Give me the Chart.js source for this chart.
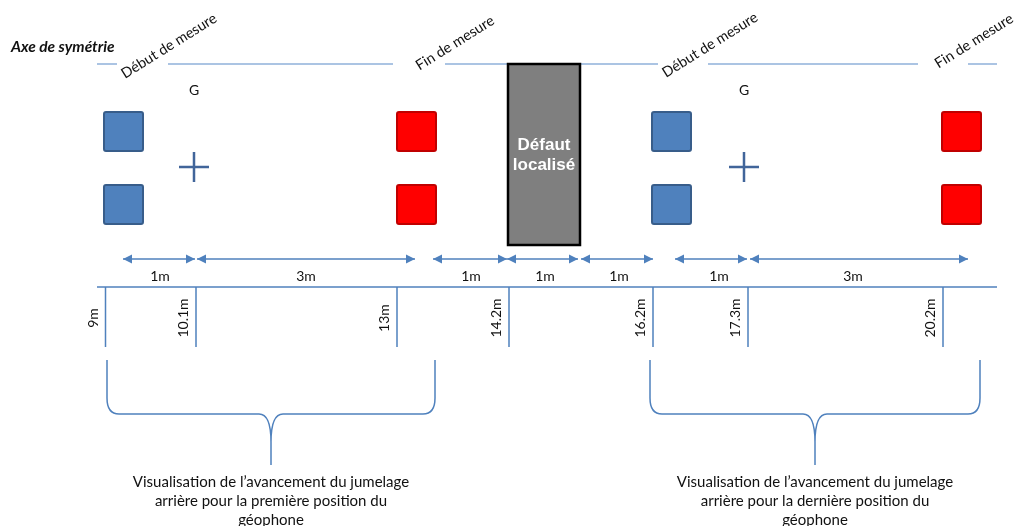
<!DOCTYPE html>
<html lang="fr">
<head>
  <meta charset="UTF-8" />
  <title>Axe de symétrie</title>
  <script src="https://cdn.jsdelivr.net/npm/chart.js"></script>
  <style>
    body { margin: 0; background: #fff; }
    #wrap { width: 1018px; height: 526px; position: relative; }
  </style>
</head>
<body>
  <div id="wrap"><canvas id="schema"></canvas></div>
  <script>
    // diagram units: x 0..1018, y 0..526 (top down)
    const tickLabels = ['9m', '10.1m', '13m', '14.2m', '16.2m', '17.3m', '20.2m'];
    const tickPos = [105.5, 196, 397, 509, 653, 748, 943];
    const spanLabels = ['1m', '3m', '1m', '1m', '1m', '1m', '3m'];
    const spanFrom = [123, 197, 433, 507, 581, 675, 750];
    const spanTo = [195, 415, 507, 578, 653, 747, 968];
    const spanLabelX = [160, 306, 471, 545, 619, 719, 853];
    const axisSegments = [[97, 117], [168, 393], [445, 658], [708, 918], [968, 997]];
    const markLabels = ['Début de mesure', 'Fin de mesure', 'Début de mesure', 'Fin de mesure'];
    const markLabelX = [169, 455, 710, 974];
    const markLabelY = [46, 43, 45, 41];
    const blueX = [104, 652];
    const redX = [397, 942];
    const squareY = [112, 185];
    const gX = [194, 744];
    const defectX = [508, 580];
    const defectY = [64, 245];
    const braceLeft = [107, 650];
    const braceRight = [435, 980];
    const braceTip = [271, 815];
    const captions = [
      ['Visualisation de l\u2019avancement du jumelage', 'arrière pour la première position du', 'géophone'],
      ['Visualisation de l\u2019avancement du jumelage', 'arrière pour la dernière position du', 'géophone']
    ];

    const axisY = 64, baseY = 287, tickBottom = 347, arrowY = 259;
    const lineBlue = '#4f81bd';
    const textCol = '#111';

    function seg(x1, y1, x2, y2, color, w) {
      return {
        type: 'line',
        data: [{x: x1, y: y1}, {x: x2, y: y2}],
        borderColor: color,
        borderWidth: w,
        pointRadius: 0,
        showLine: true,
        tension: 0
      };
    }

    const datasets = [];
    axisSegments.forEach(s => datasets.push(seg(s[0], axisY, s[1], axisY, '#8fb0da', 1.5)));
    datasets.push(seg(97, baseY, 997, baseY, lineBlue, 1.5));
    tickPos.forEach(x => datasets.push(seg(x, baseY, x, tickBottom, lineBlue, 1.5)));
    spanFrom.forEach((x, i) => datasets.push(seg(x, arrowY, spanTo[i], arrowY, lineBlue, 1.5)));

    const drawing = {
      id: 'drawing',
      afterDatasetsDraw(chart) {
        const ctx = chart.ctx;
        const X = v => chart.scales.x.getPixelForValue(v);
        const Y = v => chart.scales.y.getPixelForValue(v);
        ctx.save();

        // arrow heads
        ctx.fillStyle = lineBlue;
        const head = (x, y, dir) => {
          ctx.beginPath();
          ctx.moveTo(X(x), Y(y));
          ctx.lineTo(X(x) - dir * 9, Y(y) - 4.5);
          ctx.lineTo(X(x) - dir * 9, Y(y) + 4.5);
          ctx.closePath();
          ctx.fill();
        };
        spanFrom.forEach((x, i) => { head(x, arrowY, -1); head(spanTo[i], arrowY, 1); });

        // defect box
        ctx.fillStyle = '#7f7f7f';
        ctx.strokeStyle = '#000';
        ctx.lineWidth = 2.5;
        ctx.fillRect(X(defectX[0]), Y(defectY[0]), X(defectX[1]) - X(defectX[0]), Y(defectY[1]) - Y(defectY[0]));
        ctx.strokeRect(X(defectX[0]), Y(defectY[0]), X(defectX[1]) - X(defectX[0]), Y(defectY[1]) - Y(defectY[0]));
        ctx.fillStyle = '#fff';
        ctx.font = 'bold 17px "Liberation Sans", Arial, sans-serif';
        ctx.textAlign = 'center';
        ctx.textBaseline = 'middle';
        const cx = X((defectX[0] + defectX[1]) / 2);
        ctx.fillText('Défaut', cx, Y(145));
        ctx.fillText('localisé', cx, Y(165));

        // squares
        const square = (x, y, fill, stroke) => {
          ctx.fillStyle = fill;
          ctx.strokeStyle = stroke;
          ctx.lineWidth = 2;
          ctx.beginPath();
          ctx.roundRect(X(x), Y(y), X(x + 39) - X(x), Y(y + 39) - Y(y), 2);
          ctx.fill();
          ctx.stroke();
        };
        blueX.forEach(x => squareY.forEach(y => square(x, y, '#4f81bd', '#385d8a')));
        redX.forEach(x => squareY.forEach(y => square(x, y, '#ff0000', '#c00000')));

        // centre marks
        ctx.strokeStyle = '#41659a';
        ctx.lineWidth = 2.5;
        ctx.fillStyle = textCol;
        ctx.font = '14px Lato, sans-serif';
        gX.forEach(x => {
          ctx.beginPath();
          ctx.moveTo(X(x - 15), Y(167)); ctx.lineTo(X(x + 15), Y(167));
          ctx.moveTo(X(x), Y(152)); ctx.lineTo(X(x), Y(182));
          ctx.stroke();
          ctx.fillText('G', X(x), Y(90));
        });

        // title
        ctx.font = 'italic bold 15.5px Lato, sans-serif';
        ctx.textAlign = 'left';
        ctx.fillText('Axe de symétrie', X(11), Y(47));

        // rotated start / end labels
        ctx.font = '14.5px Lato, sans-serif';
        ctx.textAlign = 'center';
        markLabels.forEach((t, i) => {
          ctx.save();
          ctx.translate(X(markLabelX[i]), Y(markLabelY[i]));
          ctx.rotate(-32 * Math.PI / 180);
          ctx.fillText(t, 0, 0);
          ctx.restore();
        });

        // span labels
        ctx.font = '14px Lato, sans-serif';
        spanLabels.forEach((t, i) => ctx.fillText(t, X(spanLabelX[i]), Y(276)));

        // tick labels, vertical
        ctx.textBaseline = 'alphabetic';
        tickLabels.forEach((t, i) => {
          ctx.save();
          ctx.translate(X(tickPos[i] - 8), Y(318));
          ctx.rotate(-Math.PI / 2);
          ctx.fillText(t, 0, 0);
          ctx.restore();
        });

        // braces
        ctx.strokeStyle = lineBlue;
        ctx.lineWidth = 1.5;
        const top = 360, mid = 414, bottom = 465;
        braceLeft.forEach((l, i) => {
          const r = braceRight[i], t = braceTip[i];
          ctx.beginPath();
          ctx.moveTo(X(l), Y(top));
          ctx.lineTo(X(l), Y(mid - 16));
          ctx.quadraticCurveTo(X(l), Y(mid), X(l + 12), Y(mid));
          ctx.lineTo(X(t - 12), Y(mid));
          ctx.quadraticCurveTo(X(t), Y(mid), X(t), Y(mid + 28));
          ctx.lineTo(X(t), Y(bottom));
          ctx.moveTo(X(t), Y(mid + 28));
          ctx.quadraticCurveTo(X(t), Y(mid), X(t + 12), Y(mid));
          ctx.lineTo(X(r - 12), Y(mid));
          ctx.quadraticCurveTo(X(r), Y(mid), X(r), Y(mid - 16));
          ctx.lineTo(X(r), Y(top));
          ctx.stroke();
        });

        // captions
        ctx.fillStyle = textCol;
        ctx.font = '15px Lato, sans-serif';
        ctx.textBaseline = 'middle';
        captions.forEach((lines, i) => {
          lines.forEach((ln, k) => ctx.fillText(ln, X(braceTip[i]), Y(482 + k * 19)));
        });

        ctx.restore();
      }
    };

    new Chart(document.getElementById('schema'), {
      type: 'scatter',
      data: { datasets: datasets },
      options: {
        responsive: true,
        maintainAspectRatio: false,
        animation: false,
        layout: { padding: 0 },
        plugins: { legend: { display: false }, tooltip: { enabled: false } },
        scales: {
          x: { type: 'linear', min: 0, max: 1018, display: false },
          y: { type: 'linear', min: 0, max: 526, reverse: true, display: false }
        }
      },
      plugins: [drawing]
    });
  </script>
</body>
</html>
